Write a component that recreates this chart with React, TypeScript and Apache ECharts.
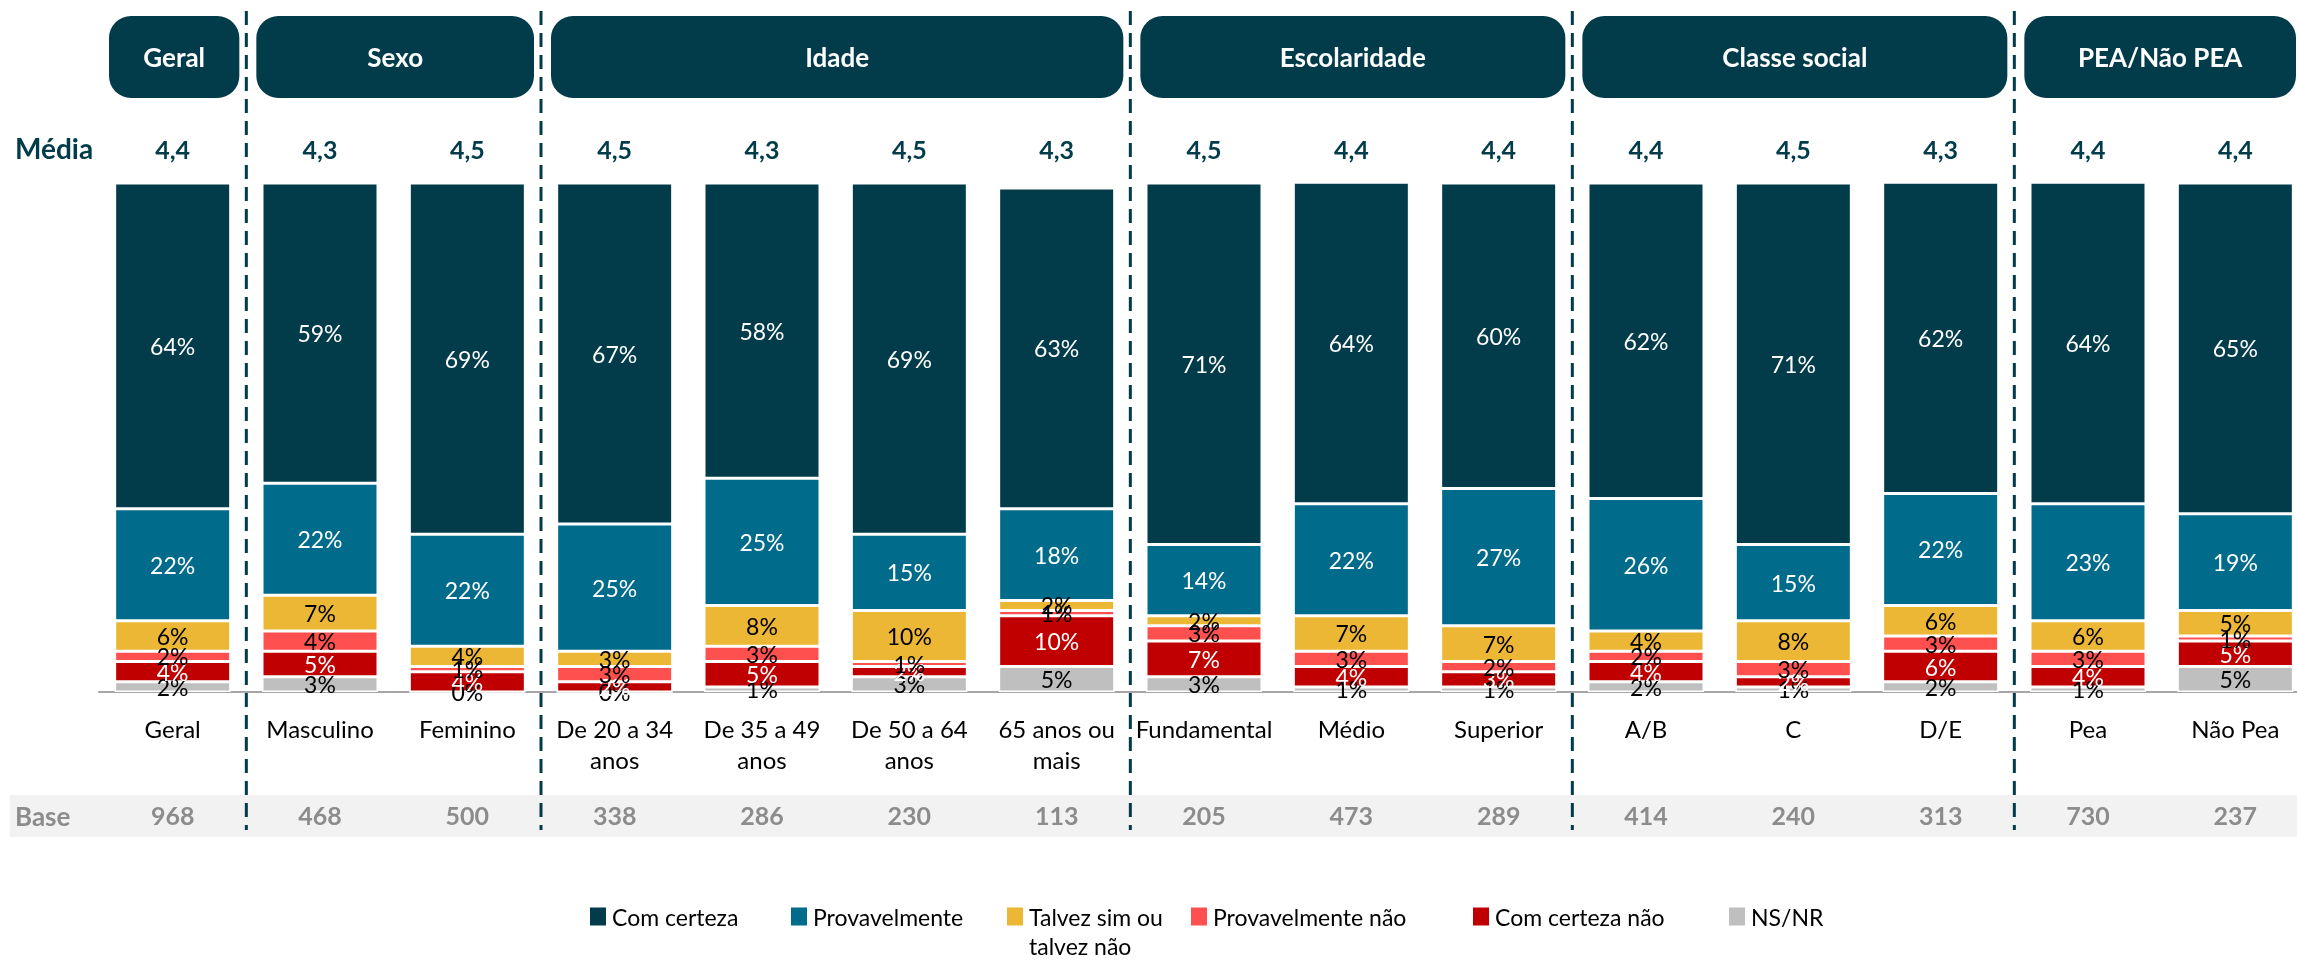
import React, { useEffect, useRef } from 'react';
import * as echarts from 'echarts';

const categories = ['Geral', 'Masculino', 'Feminino', 'De 20 a 34\nanos', 'De 35 a 49\nanos', 'De 50 a 64\nanos', '65 anos ou\nmais', 'Fundamental', 'Médio', 'Superior', 'A/B', 'C', 'D/E', 'Pea', 'Não Pea'];
const comCerteza = [64, 59, 69, 67, 58, 69, 63, 71, 64, 60, 62, 71, 62, 64, 65];
const provavelmente = [22, 22, 22, 25, 25, 15, 18, 14, 22, 27, 26, 15, 22, 23, 19];
const talvez = [6, 7, 4, 3, 8, 10, 2, 2, 7, 7, 4, 8, 6, 6, 5];
const provavelmenteNao = [2, 4, 1, 3, 3, 1, 1, 3, 3, 2, 2, 3, 3, 3, 1];
const comCertezaNao = [4, 5, 4, 2, 5, 2, 10, 7, 4, 3, 4, 2, 6, 4, 5];
const nsnr = [2, 3, 0, 0, 1, 3, 5, 3, 1, 1, 2, 1, 2, 1, 5];
const medias = ['4,4', '4,3', '4,5', '4,5', '4,3', '4,5', '4,3', '4,5', '4,4', '4,4', '4,4', '4,5', '4,3', '4,4', '4,4'];
const bases = ['968', '468', '500', '338', '286', '230', '113', '205', '473', '289', '414', '240', '313', '730', '237'];
const groupNames = ['Geral', 'Sexo', 'Idade', 'Escolaridade', 'Classe social', 'PEA/Não PEA'];
const groupStarts = [0, 1, 3, 7, 10, 13];
const groupEnds = [0, 2, 6, 9, 12, 14];
const legendNames = ['Com certeza', 'Provavelmente', 'Talvez sim ou talvez não', 'Provavelmente não', 'Com certeza não', 'NS/NR'];

const DARK = '#023C4A';
const FONT = 'Lato';
const TALVEZ = 'Talvez sim ou talvez não';

const seriesDefs = [
  { name: 'NS/NR', data: nsnr, color: '#BFBFBF', label: '#000000' },
  { name: 'Com certeza não', data: comCertezaNao, color: '#C00000', label: '#FFFFFF' },
  { name: 'Provavelmente não', data: provavelmenteNao, color: '#FF5050', label: '#000000' },
  { name: TALVEZ, data: talvez, color: '#EBB735', label: '#000000' },
  { name: 'Provavelmente', data: provavelmente, color: '#006B8A', label: '#FFFFFF' },
  { name: 'Com certeza', data: comCerteza, color: DARK, label: '#FFFFFF' },
];

const legendWidths = [177, 192, 160, 258, 232, 80];

export default function App() {
  const ref = useRef<HTMLDivElement>(null);
  useEffect(() => {
    if (!ref.current) return;
    const chart = echarts.init(ref.current, undefined, { renderer: 'svg' });
    const rich: any = { s: { fontSize: 23, lineHeight: 29, fontFamily: FONT } };
    legendWidths.forEach((w, i) => {
      rich['w' + i] = { width: w, fontSize: 23, lineHeight: 29, fontFamily: FONT, color: '#000' };
    });
    chart.setOption({
      animation: false,
      textStyle: { fontFamily: FONT },
      grid: { left: 99, top: 183, right: 1, height: 509, containLabel: false },
      legend: {
        left: 588,
        top: 876,
        padding: 0,
        orient: 'horizontal',
        itemWidth: 18,
        itemHeight: 20,
        itemGap: 0,
        icon: 'rect',
        textStyle: { fontSize: 23, color: '#000', fontFamily: FONT, rich },
        data: legendNames,
        formatter: (n: string) => {
          const i = legendNames.indexOf(n);
          if (n === TALVEZ) return '{s| }\n{w' + i + '|Talvez sim ou}\n{w' + i + '|talvez não}';
          return '{w' + i + '|' + n + '}';
        },
      },
      xAxis: [
        {
          type: 'category',
          data: categories,
          position: 'bottom',
          axisLine: { lineStyle: { color: '#A6A6A6', width: 2 } },
          axisTick: { show: false },
          axisLabel: { color: '#000', fontSize: 24, lineHeight: 31, margin: 21, fontFamily: FONT, interval: 0 },
        },
        {
          type: 'category',
          data: medias,
          position: 'top',
          axisLine: { show: false },
          axisTick: { show: false },
          axisLabel: { color: DARK, fontSize: 25, fontWeight: 'bold', margin: 22, fontFamily: FONT, interval: 0 },
        },
        {
          type: 'category',
          data: bases,
          position: 'bottom',
          axisLine: { show: false },
          axisTick: { show: false },
          axisLabel: { color: '#8C8C8C', fontSize: 25, fontWeight: 'bold', margin: 110, fontFamily: FONT, interval: 0 },
        },
      ],
      yAxis: { type: 'value', min: 0, max: 100, show: false, splitLine: { show: false } },
      series: seriesDefs.map((s) => ({
        name: s.name,
        type: 'bar',
        stack: 'total',
        barWidth: 116,
        data: s.data,
        itemStyle: { color: s.color, borderColor: '#FFFFFF', borderWidth: 1.5 },
        label: {
          show: true,
          position: 'inside',
          formatter: '{c}%',
          color: s.label,
          fontSize: 23,
          fontFamily: FONT,
        },
      })),
    });

    const xs = categories.map((_, i) => chart.convertToPixel({ xAxisIndex: 0 }, i) as number);
    const step = xs[1] - xs[0];
    const elements: any[] = [];
    elements.push({
      type: 'rect',
      z: -10,
      shape: { x: 10, y: 795, width: 2287, height: 42 },
      style: { fill: '#F2F2F2' },
    });
    groupNames.forEach((g, gi) => {
      const x0 = xs[groupStarts[gi]] - step / 2;
      const x1 = xs[groupEnds[gi]] + step / 2;
      const bx0 = x0 + 10;
      const bx1 = Math.min(x1 - 7, 2296);
      elements.push({
        type: 'rect',
        shape: { x: bx0, y: 16, width: bx1 - bx0, height: 82, r: 22 },
        style: { fill: DARK },
      });
      elements.push({
        type: 'text',
        x: (bx0 + bx1) / 2,
        y: 57,
        style: { text: g, fill: '#FFFFFF', fontSize: 26, fontWeight: 'bold', fontFamily: FONT, align: 'center', verticalAlign: 'middle' },
      });
      if (gi > 0) {
        elements.push({
          type: 'line',
          shape: { x1: x0, y1: 11, x2: x0, y2: 830 },
          style: { stroke: DARK, lineWidth: 3, lineDash: [14, 8] },
        });
      }
    });
    elements.push({
      type: 'text',
      x: 15,
      y: 148,
      style: { text: 'Média', fill: DARK, fontSize: 28, fontWeight: 'bold', fontFamily: FONT, verticalAlign: 'middle' },
    });
    elements.push({
      type: 'text',
      x: 15,
      y: 816,
      style: { text: 'Base', fill: '#8C8C8C', fontSize: 26, fontWeight: 'bold', fontFamily: FONT, verticalAlign: 'middle' },
    });
    chart.setOption({ graphic: { elements } });

    return () => chart.dispose();
  }, []);
  return <div ref={ref} style={{ position: 'fixed', left: 0, top: 0, width: 2310, height: 964 }} />;
}
